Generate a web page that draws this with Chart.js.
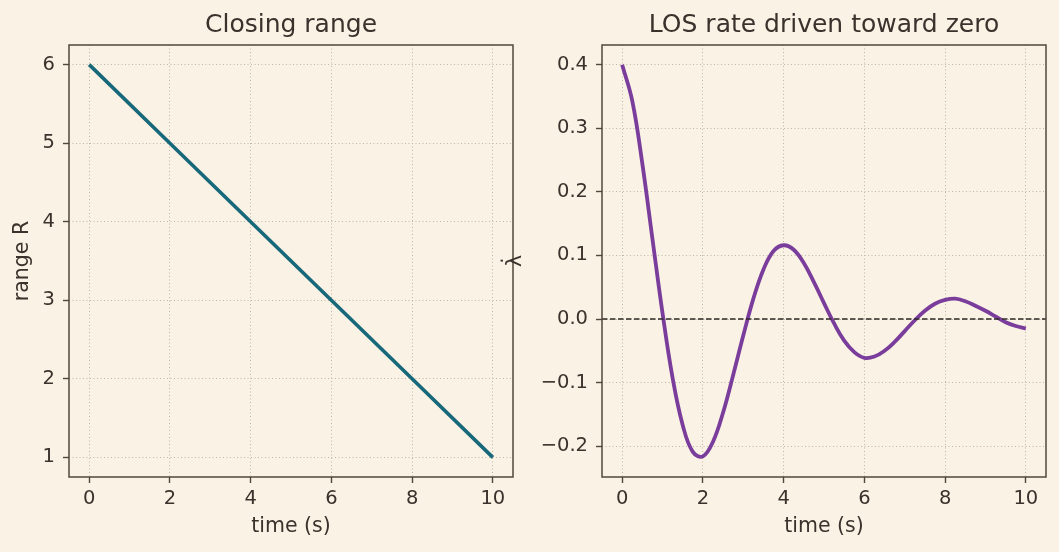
<!DOCTYPE html>
<html>
<head>
<meta charset="utf-8">
<script src="https://cdn.jsdelivr.net/npm/chart.js@4.4.1/dist/chart.umd.min.js"></script>
<style>
  html, body { margin: 0; padding: 0; background: #faf2e4; }
  body { width: 1059px; height: 552px; position: relative; overflow: hidden; }
  canvas { position: absolute; top: 0; }
  #rangeChart { left: 0; }
  #losChart { left: 480px; }
</style>
</head>
<body>
<canvas id="rangeChart" width="530" height="552"></canvas>
<canvas id="losChart" width="579" height="552"></canvas>
<script>
// values
const rangeTime = [0, 2, 4, 6, 8, 10];
const rangeValues = [6, 5, 4, 3, 2, 1];

const losTime = [0, 0.25, 0.5, 0.75, 1, 1.25, 1.5, 1.75, 2, 2.25, 2.5, 2.75, 3, 3.25, 3.5, 3.75,
  4, 4.25, 4.5, 4.75, 5, 5.25, 5.5, 5.75, 6, 6.25, 6.5, 6.75, 7, 7.25, 7.5, 7.75,
  8, 8.25, 8.5, 8.75, 9, 9.25, 9.5, 9.75, 10];
const losRate = [0.400, 0.343, 0.244, 0.126, 0.009, -0.093, -0.167, -0.209, -0.216, -0.193, -0.147, -0.088,
  -0.026, 0.032, 0.078, 0.107, 0.116, 0.109, 0.088, 0.058, 0.025, -0.007, -0.034, -0.052,
  -0.061, -0.059, -0.050, -0.036, -0.019, -0.002, 0.013, 0.024, 0.030, 0.032, 0.028, 0.021,
  0.013, 0.004, -0.005, -0.011, -0.015];

const timeTicks = [0, 2, 4, 6, 8, 10];
const rangeTicks = [1, 2, 3, 4, 5, 6];
const losTicks = [-0.2, -0.1, 0, 0.1, 0.2, 0.3, 0.4];

const TEXT = '#3a322c';
const SPINE = '#52473a';
const GRID = '#bfb7a6';

Chart.defaults.font.family = "'DejaVu Sans', sans-serif";
Chart.defaults.color = TEXT;

// matplotlib-style box around the plot area
const frame = {
    id: 'frame',
    afterDraw(chart) {
        const { ctx, chartArea: a } = chart;
        ctx.save();
        ctx.strokeStyle = SPINE;
        ctx.lineWidth = 1.5;
        ctx.strokeRect(a.left, a.top, a.right - a.left, a.bottom - a.top);
        ctx.restore();
    }
};

function axis(ticks, min, max, title, titlePad, size, fmt) {
    const horizontal = size.height !== undefined;
    return {
        type: 'linear',
        min: min,
        max: max,
        afterBuildTicks: s => { s.ticks = ticks.map(v => ({ value: v })); },
        afterFit: s => {
            if (horizontal) s.height = size.height;
            else s.width = size.width;
        },
        ticks: {
            font: { size: 19.5 },
            color: TEXT,
            padding: horizontal ? 4 : 8,
            autoSkip: false,
            maxRotation: 0,
            callback: fmt
        },
        grid: {
            color: GRID,
            lineWidth: 1,
            tickColor: SPINE,
            tickWidth: 1.4,
            tickLength: 6,
            tickBorderDash: []
        },
        border: { display: false, dash: [1, 2.5] },
        title: {
            display: true,
            text: title,
            color: TEXT,
            font: { size: 20.5 },
            padding: horizontal ? { top: 0, bottom: titlePad } : { top: titlePad, bottom: 0 }
        }
    };
}

function makeChart(id, title, datasets, scales, rightPad) {
    return new Chart(document.getElementById(id), {
        type: 'line',
        data: { datasets: datasets },
        options: {
            responsive: false,
            animation: false,
            devicePixelRatio: 1,
            layout: { padding: { left: 0, right: rightPad, top: 0, bottom: 0 } },
            elements: { point: { radius: 0 } },
            plugins: {
                legend: { display: false },
                tooltip: { enabled: false },
                title: {
                    display: true,
                    fullSize: false,
                    text: title,
                    color: TEXT,
                    font: { size: 25, weight: 'normal' },
                    padding: { top: 10, bottom: 5 }
                }
            },
            scales: scales
        },
        plugins: [frame]
    });
}

const fmtInt = v => String(v);
const fmtOne = v => v.toFixed(1).replace('-', '\u2212');

makeChart('rangeChart', 'Closing range', [{
    data: rangeTime.map((t, i) => ({ x: t, y: rangeValues[i] })),
    borderColor: '#17687a',
    borderWidth: 3.6,
    borderCapStyle: 'butt'
}], {
    x: axis(timeTicks, -0.5, 10.5, 'time (s)', 12.7, { height: 75 }, fmtInt),
    y: axis(rangeTicks, 0.75, 6.25, 'range R', 10, { width: 69 }, fmtInt)
}, 17);

makeChart('losChart', 'LOS rate driven toward zero', [{
    // zero reference line, drawn on top
    data: [{ x: -0.5, y: 0 }, { x: 10.5, y: 0 }],
    borderColor: '#2e2925',
    borderWidth: 1.5,
    borderDash: [5.5, 2.5],
    order: 0
}, {
    data: losTime.map((t, i) => ({ x: t, y: losRate[i] })),
    borderColor: '#7a3d9c',
    borderWidth: 3.8,
    borderCapStyle: 'butt',
    tension: 0.4,
    order: 1
}], {
    x: axis(timeTicks, -0.5, 10.5, 'time (s)', 12.7, { height: 75 }, fmtInt),
    y: axis(losTicks, -0.2485, 0.431, '\u03BB\u0307', 23, { width: 122 }, fmtOne)
}, 13);
</script>
</body>
</html>
